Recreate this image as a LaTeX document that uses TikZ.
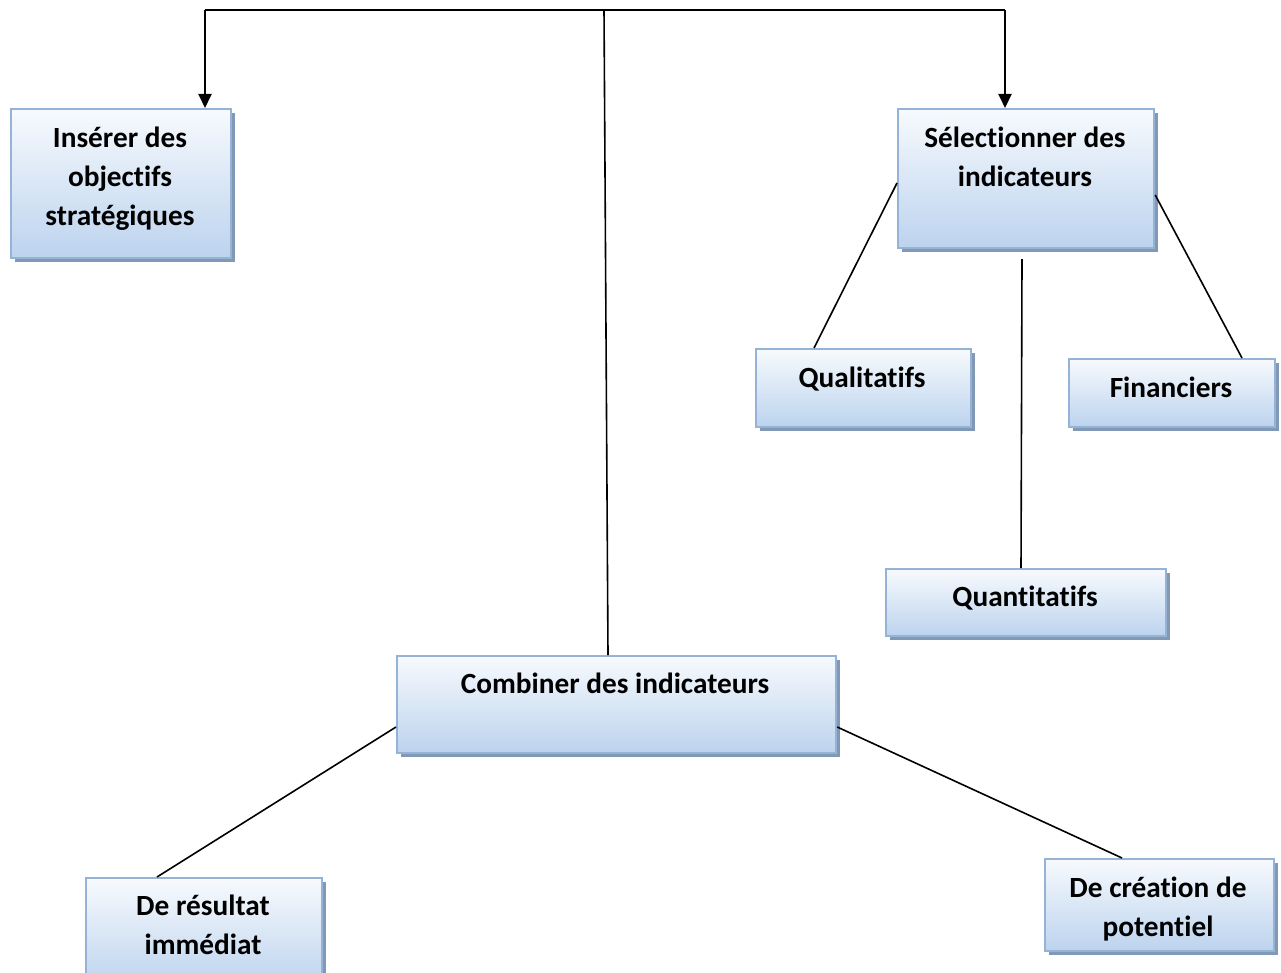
\documentclass[tikz,border=0pt]{standalone}
\usepackage{fontspec}
\setmainfont{Carlito}[Ligatures={NoCommon}]
\usetikzlibrary{arrows.meta,shadows,calc}
\definecolor{boxtop}{HTML}{F7FAFD}
\definecolor{boxbot}{HTML}{BCD3EE}
\definecolor{boxline}{HTML}{95B3D7}
\definecolor{boxshadow}{HTML}{8199B4}
\newcommand{\fs}{\rule{0pt}{22pt}}
\tikzset{
  box/.style={draw=boxline, line width=2.2pt, top color=boxtop, bottom color=boxbot,
    anchor=north west, inner sep=0pt, rectangle,
    drop shadow={shadow xshift=4pt, shadow yshift=-4pt, fill=boxshadow, opacity=1}},
  lbl/.style={anchor=north, inner sep=0pt, align=center,
    font=\fontsize{29.3}{39}\selectfont\bfseries, text=black},
  conn/.style={line width=1.6pt, black},
  arr/.style={line width=2pt, black, -{Triangle[length=14pt,width=13pt]}},
}
\begin{document}
\begin{tikzpicture}[x=1pt,y=-1pt]
\useasboundingbox (0,0) rectangle (1281,973);
\clip (0,0) rectangle (1281,973);
% boxes
\node[box, minimum width=220pt, minimum height=149pt] (ins) at (10,108) {};
\node[box, minimum width=256pt, minimum height=139pt] (sel) at (897,108) {};
\node[box, minimum width=215pt, minimum height=78pt] (qual) at (755,348) {};
\node[box, minimum width=206pt, minimum height=68pt] (fin) at (1068,358) {};
\node[box, minimum width=280pt, minimum height=67pt] (quan) at (885,568) {};
\node[box, minimum width=439pt, minimum height=97pt] (comb) at (396,655) {};
\node[box, minimum width=236pt, minimum height=110pt] (res) at (85,877) {};
\node[box, minimum width=229pt, minimum height=92pt] (cre) at (1044,858) {};
% labels
\node[lbl] (tins) at (120,125) {\fs Insérer des\\objectifs\\stratégiques};
\node[lbl] (tsel) at (1025,125) {\fs Sélectionner des\\indicateurs};
\node[lbl] (tqual) at (862,365) {\fs Qualitatifs};
\node[lbl] (tfin) at (1171,375) {\fs Financiers};
\node[lbl] (tquan) at (1025,584) {\fs Quantitatifs};
\node[lbl] (tcomb) at (615,671) {\fs Combiner des indicateurs};
\node[lbl] (tres) at (203,893) {\fs De résultat\\immédiat};
\node[lbl] (tcre) at (1158,875) {\fs De création de\\potentiel};
% connectors
\coordinate (tl) at (205,10);
\coordinate (tr) at (1005,10);
\coordinate (tm) at (604,10);
\draw[line width=2pt] (tl) -- (tr);
\draw[arr] (tl) -- (tl |- ins.north);
\draw[arr] (tr) -- (tr |- sel.north);
\draw[conn] (tm) -- ($(comb.north west)+(212,0)$);
\draw[conn] ($(sel.north west)+(0,75)$) -- ($(qual.north west)+(59,0)$);
\draw[conn] ($(sel.south west)+(125,10)$) -- ($(quan.north west)+(136,0)$);
\draw[conn] ($(sel.north east)+(0,87)$) -- ($(fin.north west)+(174,0)$);
\draw[conn] ($(comb.north west)+(0,72)$) -- ($(res.north west)+(72,0)$);
\draw[conn] ($(comb.north east)+(0,72)$) -- ($(cre.north west)+(78,0)$);
\end{tikzpicture}
\end{document}
